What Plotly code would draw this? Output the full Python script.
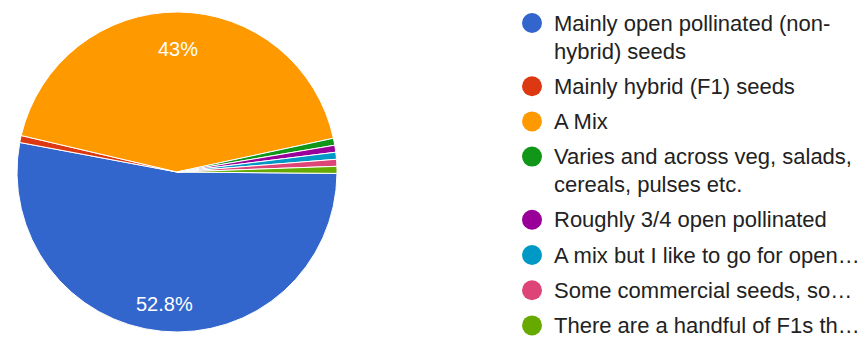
import math
import plotly.graph_objects as go

# Survey answers (response counts) and their slice colours
labels = [
    "Mainly open pollinated (non-<br>hybrid) seeds",
    "Mainly hybrid (F1) seeds",
    "A Mix",
    "Varies and across veg, salads,<br>cereals, pulses etc.",
    "Roughly 3/4 open pollinated",
    "A mix but I like to go for open…",
    "Some commercial seeds, so…",
    "There are a handful of F1s th…",
]
counts = [75, 1, 61, 1, 1, 1, 1, 1]
colors = ["#3366cc", "#dc3912", "#ff9900", "#109618",
          "#990099", "#0099c6", "#dd4477", "#66aa00"]

W, H = 865, 338
FONT = "Liberation Sans, Arial, sans-serif"

# Pie geometry in pixels
cx_px, cy_px, r_px = 177, 172, 160
start_deg = 90.5  # first slice starts at about 3 o'clock, runs clockwise

fig = go.Figure()
fig.add_trace(go.Pie(
    labels=[l.replace("<br>", " ") for l in labels],
    values=counts,
    marker=dict(colors=colors, line=dict(color="white", width=1)),
    sort=False,
    direction="clockwise",
    rotation=start_deg,
    textinfo="none",
    hoverinfo="label+percent",
    showlegend=False,
    domain=dict(x=[(cx_px - r_px) / W, (cx_px + r_px) / W],
                y=[(H - cy_px - r_px) / H, (H - cy_px + r_px) / H]),
))

annotations = []
shapes = []

# Percentage labels on the large slices
total = sum(counts)
acc = 0.0
for v in counts:
    pct = 100.0 * v / total
    mid = start_deg + 360.0 * (acc + v / 2.0) / total
    acc += v
    if pct < 5:
        continue
    txt = f"{pct:.1f}"
    if txt.endswith(".0"):
        txt = txt[:-2]
    a = math.radians(mid)
    rr = 0.8 * r_px
    px = cx_px + rr * math.sin(a)
    py = cy_px - rr * math.cos(a) + 5
    annotations.append(dict(
        x=px / W, y=1 - py / H, xref="paper", yref="paper",
        text=txt + "%", showarrow=False, xanchor="center", yanchor="middle",
        font=dict(family=FONT, size=20, color="white"),
    ))

# Legend: coloured dots with wrapped labels
line_h = 28
item_gap = 7.2
y = 23
dot_x = 532
text_x = 553
for name, col in zip(labels, colors):
    shapes.append(dict(
        type="circle", xref="paper", yref="paper",
        xsizemode="pixel", ysizemode="pixel",
        xanchor=dot_x / W, yanchor=1 - y / H,
        x0=-10, x1=10, y0=-10, y1=10,
        fillcolor=col, line=dict(width=0),
    ))
    for part in name.split("<br>"):
        annotations.append(dict(
            x=text_x / W, y=1 - y / H, xref="paper", yref="paper",
            text=part, showarrow=False, xanchor="left", yanchor="middle",
            borderpad=0,
            font=dict(family=FONT, size=22, color="#222222"),
        ))
        y += line_h
    y += item_gap

fig.update_layout(
    width=W, height=H,
    margin=dict(l=0, r=0, t=0, b=0),
    paper_bgcolor="white", plot_bgcolor="white",
    annotations=annotations, shapes=shapes,
)

fig.write_html("out.html")
